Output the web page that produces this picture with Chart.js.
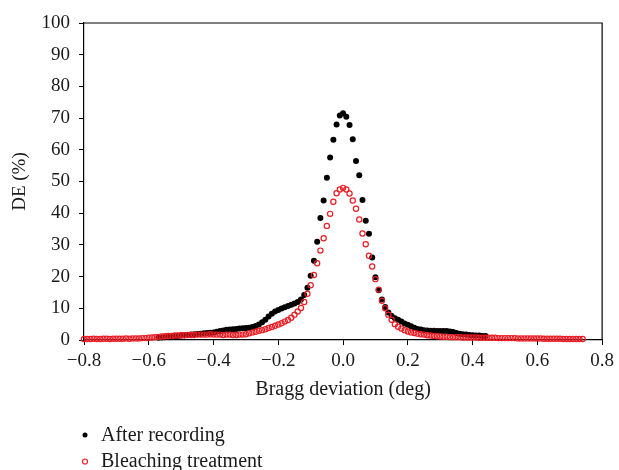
<!DOCTYPE html>
<html>
<head>
<meta charset="utf-8">
<script src="https://cdn.jsdelivr.net/npm/chart.js@4"></script>
<style>
  html, body { margin: 0; padding: 0; background: #fff; }
</style>
</head>
<body>
<canvas id="myChart" width="619" height="470"></canvas>
<script>
// Bragg deviation (deg), sampled every 0.01
var deviation = [
  -0.80, -0.79, -0.78, -0.77, -0.76, -0.75, -0.74, -0.73, -0.72, -0.71, -0.70,
  -0.69, -0.68, -0.67, -0.66, -0.65, -0.64, -0.63, -0.62, -0.61, -0.60,
  -0.59, -0.58, -0.57, -0.56, -0.55, -0.54, -0.53, -0.52, -0.51, -0.50,
  -0.49, -0.48, -0.47, -0.46, -0.45, -0.44, -0.43, -0.42, -0.41, -0.40,
  -0.39, -0.38, -0.37, -0.36, -0.35, -0.34, -0.33, -0.32, -0.31, -0.30,
  -0.29, -0.28, -0.27, -0.26, -0.25, -0.24, -0.23, -0.22, -0.21, -0.20,
  -0.19, -0.18, -0.17, -0.16, -0.15, -0.14, -0.13, -0.12, -0.11, -0.10,
  -0.09, -0.08, -0.07, -0.06, -0.05, -0.04, -0.03, -0.02, -0.01, 0.00,
  0.01, 0.02, 0.03, 0.04, 0.05, 0.06, 0.07, 0.08, 0.09, 0.10,
  0.11, 0.12, 0.13, 0.14, 0.15, 0.16, 0.17, 0.18, 0.19, 0.20,
  0.21, 0.22, 0.23, 0.24, 0.25, 0.26, 0.27, 0.28, 0.29, 0.30,
  0.31, 0.32, 0.33, 0.34, 0.35, 0.36, 0.37, 0.38, 0.39, 0.40,
  0.41, 0.42, 0.43, 0.44, 0.45, 0.46, 0.47, 0.48, 0.49, 0.50,
  0.51, 0.52, 0.53, 0.54, 0.55, 0.56, 0.57, 0.58, 0.59, 0.60,
  0.61, 0.62, 0.63, 0.64, 0.65, 0.66, 0.67, 0.68, 0.69, 0.70,
  0.71, 0.72, 0.73, 0.74
];

// DE (%) after recording (no data outside -0.57 .. 0.44)
var afterRecording = [
  null, null, null, null, null, null, null, null, null, null, null,
  null, null, null, null, null, null, null, null, null, null,
  null, null, 0.7, 0.8, 0.9, 1.0, 1.1, 1.2, 1.3, 1.4,
  1.5, 1.6, 1.7, 1.8, 1.9, 2.0, 2.1, 2.2, 2.3, 2.4,
  2.6, 2.8, 3.0, 3.2, 3.3, 3.4, 3.5, 3.6, 3.7, 3.8,
  3.9, 4.1, 4.4, 4.9, 5.6, 6.4, 7.4, 8.3, 9.0, 9.5,
  9.9, 10.3, 10.7, 11.1, 11.5, 12.0, 12.8, 14.2, 16.5, 20.3,
  25.0, 31.0, 38.5, 44.0, 51.2, 57.6, 63.2, 68.0, 70.8, 71.5,
  70.4, 67.8, 63.3, 56.5, 52.0, 44.2, 37.6, 33.5, 26.0, 19.8,
  15.7, 12.8, 10.4, 8.7, 7.6, 6.9, 6.4, 5.8, 5.2, 4.8,
  4.3, 3.9, 3.5, 3.3, 3.1, 3.0, 2.9, 2.9, 2.8, 2.8,
  2.8, 2.8, 2.7, 2.5, 2.2, 2.0, 1.8, 1.7, 1.6, 1.5,
  1.4, 1.4, 1.3, 1.3, null, null, null, null, null, null,
  null, null, null, null, null, null, null, null, null, null,
  null, null, null, null, null, null, null, null, null, null,
  null, null, null, null
];

// DE (%) after bleaching treatment
var bleaching = [
  0.3, 0.3, 0.3, 0.4, 0.3, 0.3, 0.4, 0.4, 0.3, 0.4, 0.4,
  0.4, 0.4, 0.5, 0.4, 0.5, 0.5, 0.5, 0.6, 0.6, 0.7,
  0.8, 0.9, 1.0, 1.1, 1.2, 1.3, 1.3, 1.4, 1.4, 1.5,
  1.5, 1.6, 1.6, 1.6, 1.7, 1.7, 1.7, 1.7, 1.8, 1.7,
  1.7, 1.7, 1.6, 1.7, 1.7, 1.6, 1.6, 1.7, 1.7, 1.8,
  2.1, 2.4, 2.6, 2.9, 3.1, 3.4, 3.8, 4.1, 4.5, 4.9,
  5.3, 5.8, 6.3, 7.0, 8.0, 9.0, 10.1, 12.0, 14.6, 17.3,
  20.5, 24.2, 28.2, 32.1, 36.0, 39.8, 43.6, 46.3, 47.5, 48.0,
  47.5, 46.2, 44.0, 41.4, 38.0, 33.6, 30.2, 26.6, 23.2, 19.2,
  15.9, 12.4, 10.0, 8.0, 6.4, 5.0, 4.2, 3.6, 3.1, 2.7,
  2.4, 2.2, 2.0, 1.8, 1.7, 1.5, 1.4, 1.3, 1.2, 1.1,
  1.0, 1.0, 0.9, 0.9, 0.9, 0.9, 0.8, 0.8, 0.8, 0.8,
  0.8, 0.7, 0.7, 0.7, 0.7, 0.7, 0.7, 0.6, 0.6, 0.6,
  0.6, 0.6, 0.6, 0.5, 0.5, 0.5, 0.5, 0.5, 0.5, 0.5,
  0.5, 0.4, 0.4, 0.4, 0.4, 0.4, 0.4, 0.3, 0.3, 0.3,
  0.3, 0.3, 0.3, 0.3
];

var xTickLabels = ['\u22120.8', '\u22120.6', '\u22120.4', '\u22120.2', '0.0', '0.2', '0.4', '0.6', '0.8'];
var yTickLabels = ['0', '10', '20', '30', '40', '50', '60', '70', '80', '90', '100'];

//turn the arrays into {x, y} points, skipping gaps
function toPoints(values) {
  var pts = [];
  for (var i = 0; i < deviation.length; i++) {
    if (values[i] !== null) pts.push({ x: deviation[i], y: values[i] });
  }
  return pts;
}

Chart.defaults.font.family = '"Liberation Serif", "Times New Roman", serif';
Chart.defaults.font.size = 19;
Chart.defaults.color = '#1a1a1a';

//top/right frame lines and the stacked legend under the axis title
var extrasPlugin = {
  id: 'extras',
  afterDraw: function(chart) {
    var c = chart.ctx;
    var a = chart.chartArea;
    c.save();
    c.strokeStyle = '#000';
    c.lineWidth = 1.2;
    c.beginPath();
    c.moveTo(a.left, a.top);
    c.lineTo(a.right, a.top);
    c.lineTo(a.right, a.bottom);
    c.stroke();

    c.font = '20px "Liberation Serif", serif';
    c.fillStyle = '#1a1a1a';
    c.textBaseline = 'alphabetic';
    chart.data.datasets.forEach(function(ds, i) {
      var cy = 435 + i * 26.5;
      c.beginPath();
      c.arc(85, cy, 2.5, 0, Math.PI * 2);
      if (ds.pointBackgroundColor === 'rgba(0,0,0,0)') {
        c.strokeStyle = ds.pointBorderColor;
        c.lineWidth = 1.2;
        c.stroke();
      } else {
        c.fillStyle = ds.pointBackgroundColor;
        c.fill();
        c.fillStyle = '#1a1a1a';
      }
      c.fillText(ds.label, 101, cy + 5.5);
    });
    c.restore();
  }
};

var ctx = document.getElementById('myChart').getContext('2d');

var myChart = new Chart(ctx, {
  type: 'scatter',
  data: {
    datasets: [{
      label: 'After recording',
      data: toPoints(afterRecording),
      pointRadius: 3,
      pointBackgroundColor: '#000',
      pointBorderColor: '#000',
      pointBorderWidth: 0,
      order: 2,
      clip: false
    }, {
      label: 'Bleaching treatment',
      data: toPoints(bleaching),
      pointRadius: 2.6,
      pointBackgroundColor: 'rgba(0,0,0,0)',
      pointBorderColor: '#ec1c24',
      pointBorderWidth: 1.2,
      order: 1,
      clip: false
    }]
  },
  options: {
    responsive: false,
    animation: false,
    events: [],
    layout: { padding: { left: 0, top: 23, right: 15, bottom: 68 } },
    plugins: {
      legend: { display: false },
      tooltip: { enabled: false }
    },
    scales: {
      x: {
        type: 'linear',
        min: -0.8,
        max: 0.8,
        ticks: {
          stepSize: 0.2,
          padding: 5,
          maxRotation: 0,
          callback: function(v, i) { return xTickLabels[i]; }
        },
        grid: { drawOnChartArea: false, drawTicks: true, tickLength: 5, color: '#000' },
        border: { color: '#000', width: 1.2 },
        title: { display: true, text: 'Bragg deviation (deg)', padding: 0, font: { size: 20 } },
        afterFit: function(scale) { scale.height = 62; }
      },
      y: {
        min: 0,
        max: 100,
        ticks: {
          stepSize: 10,
          padding: 9,
          callback: function(v, i) { return yTickLabels[i]; }
        },
        grid: { drawOnChartArea: false, drawTicks: true, tickLength: 5, color: '#000' },
        border: { color: '#000', width: 1.2 },
        title: { display: true, text: 'DE (%)', padding: { top: 9, bottom: 0 } },
        afterFit: function(scale) { scale.width = 84; }
      }
    }
  },
  plugins: [extrasPlugin]
});
</script>
</body>
</html>
